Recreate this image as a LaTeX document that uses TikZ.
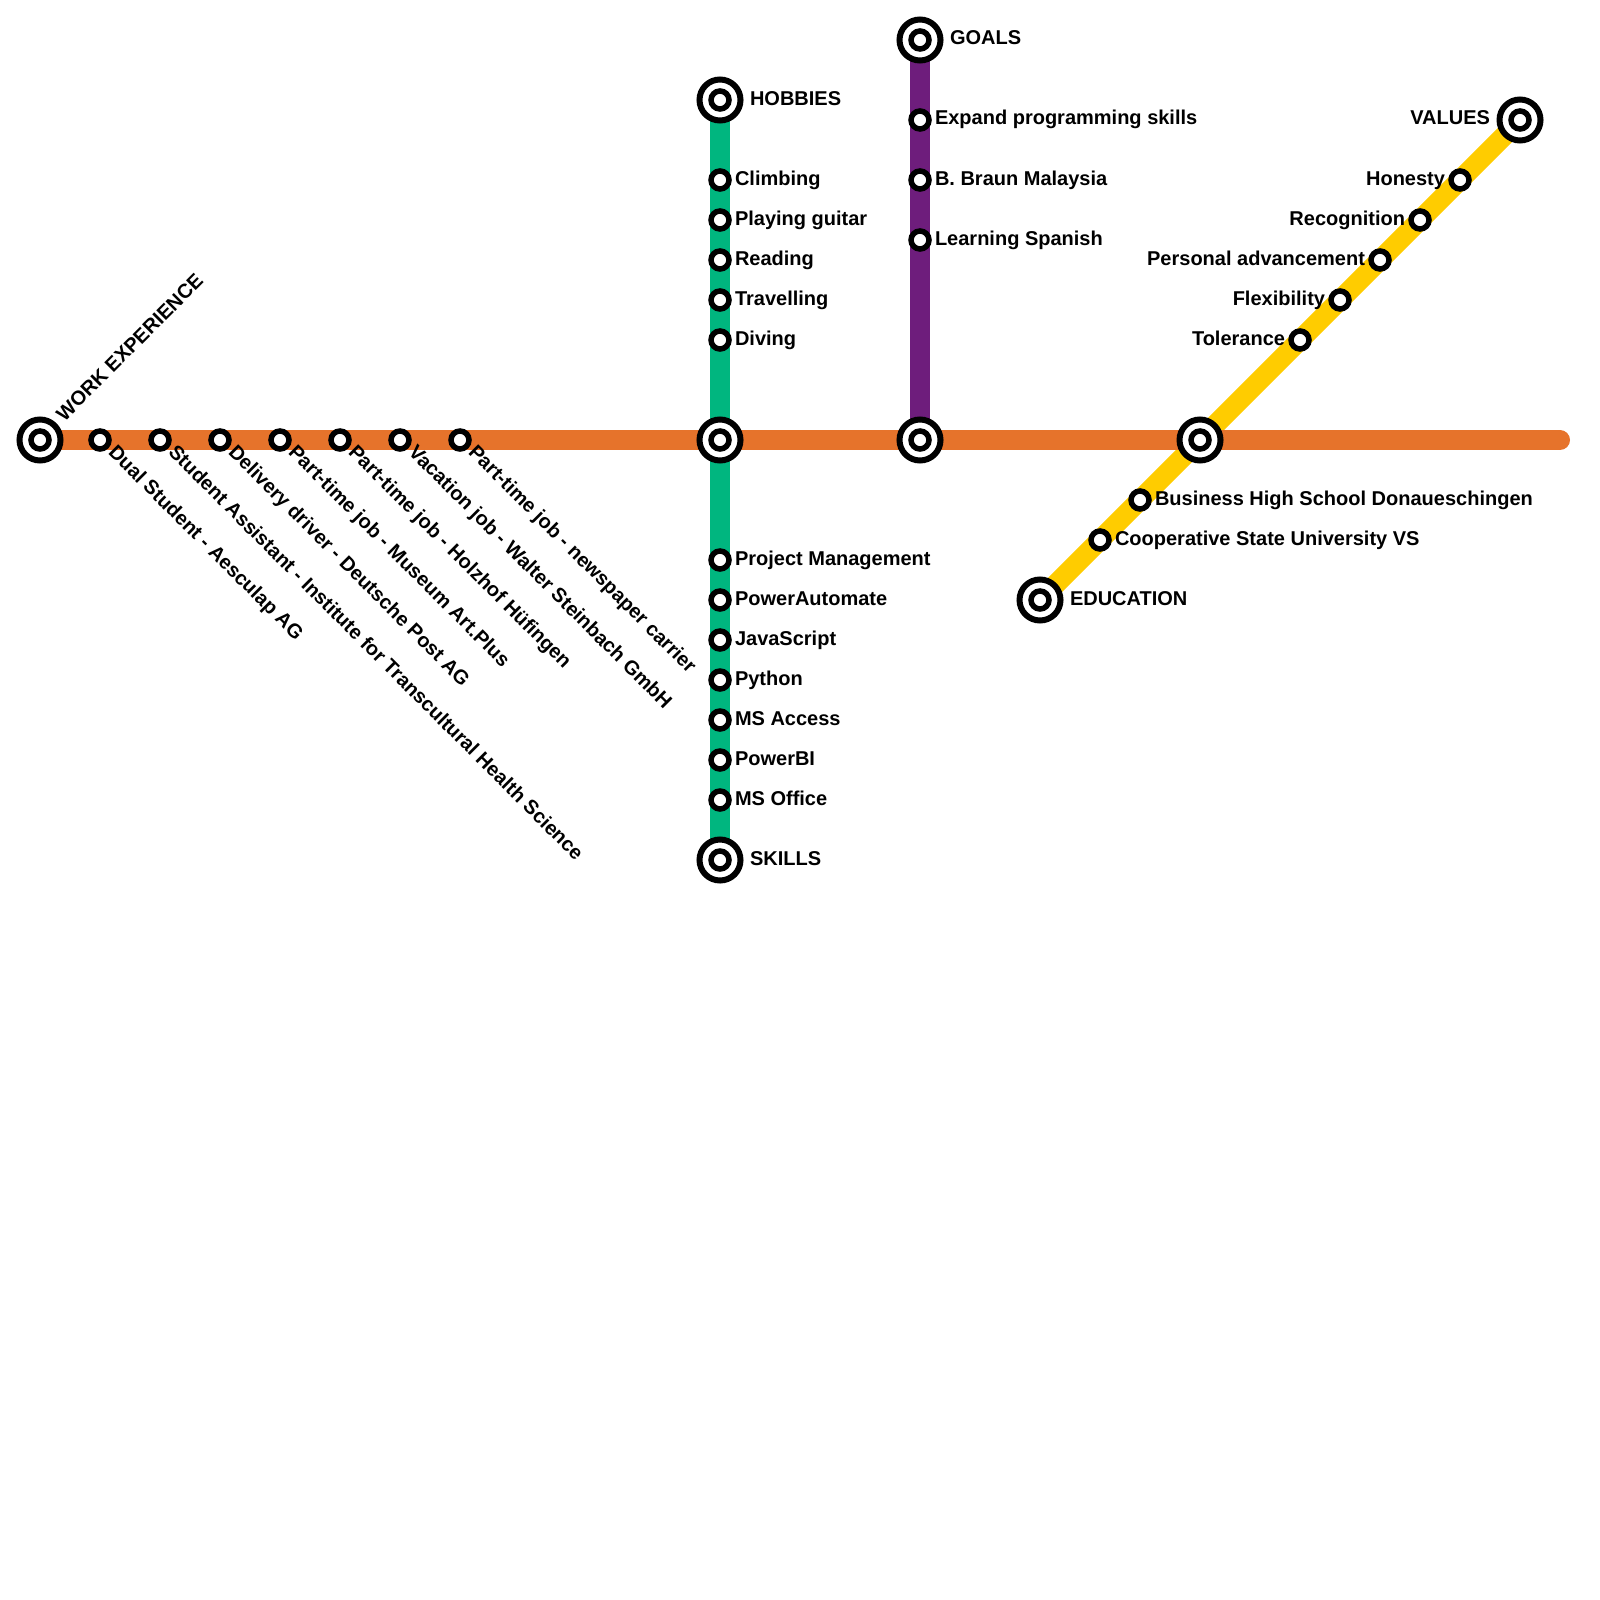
\documentclass[tikz,border=0pt]{standalone}
\usepackage{fontspec}
\setmainfont{Liberation Sans}
\usetikzlibrary{backgrounds}
\definecolor{orangeline}{HTML}{E6732B}
\definecolor{greenline}{HTML}{00B67F}
\definecolor{purpleline}{HTML}{6E1D7C}
\definecolor{yellowline}{HTML}{FFCC00}
\tikzset{
  px/.style={x=0.5pt,y=-0.5pt},
  stop/.style={circle,draw=black,line width=2.75pt,fill=white,inner sep=0pt,outer sep=0pt,minimum size=9pt},
  hub/.style={circle,draw=black,line width=3pt,fill=white,inner sep=0pt,outer sep=0pt,minimum size=20.5pt},
  route/.style={line width=10pt,line cap=round},
  lab/.style={inner sep=0pt,outer sep=0pt,font=\fontsize{10pt}{12pt}\selectfont\bfseries,text=black},
  labr/.style={lab,anchor=base west,yshift=-0.5pt},
  labl/.style={lab,anchor=base east,yshift=-0.5pt},
  labd/.style={lab,anchor=base west,rotate=-45},
  labu/.style={lab,anchor=base west,rotate=45},
}
\newcommand{\hubat}[2]{\node[hub] (#1) at (#2) {}; \node[stop] (#1i) at (#2) {};}
\begin{document}
\begin{tikzpicture}[px]
\useasboundingbox (0,0) rectangle (1600,1600);
% hubs
\hubat{work}{40,440}
\hubat{hobbies}{720,100}
\hubat{skills}{720,860}
\hubat{goals}{920,40}
\hubat{values}{1520,120}
\hubat{education}{1040,600}
\hubat{crossa}{720,440}
\hubat{crossb}{920,440}
\hubat{crossc}{1200,440}
\coordinate (orangeend) at (1560,440);
% work stops
\node[stop] (w1) at (100,440) {};
\node[stop] (w2) at (160,440) {};
\node[stop] (w3) at (220,440) {};
\node[stop] (w4) at (280,440) {};
\node[stop] (w5) at (340,440) {};
\node[stop] (w6) at (400,440) {};
\node[stop] (w7) at (460,440) {};
% hobbies
\node[stop] (h1) at (720,180) {};
\node[stop] (h2) at (720,220) {};
\node[stop] (h3) at (720,260) {};
\node[stop] (h4) at (720,300) {};
\node[stop] (h5) at (720,340) {};
% skills
\node[stop] (s1) at (720,560) {};
\node[stop] (s2) at (720,600) {};
\node[stop] (s3) at (720,640) {};
\node[stop] (s4) at (720,680) {};
\node[stop] (s5) at (720,720) {};
\node[stop] (s6) at (720,760) {};
\node[stop] (s7) at (720,800) {};
% goals
\node[stop] (g1) at (920,120) {};
\node[stop] (g2) at (920,180) {};
\node[stop] (g3) at (920,240) {};
% values
\node[stop] (v1) at (1460,180) {};
\node[stop] (v2) at (1420,220) {};
\node[stop] (v3) at (1380,260) {};
\node[stop] (v4) at (1340,300) {};
\node[stop] (v5) at (1300,340) {};
% education
\node[stop] (e1) at (1140,500) {};
\node[stop] (e2) at (1100,540) {};
% lines
\begin{scope}[on background layer]
\draw[route,draw=greenline] (hobbies.center) -- (skills.center);
\draw[route,draw=purpleline] (goals.center) -- (crossb.center);
\draw[route,draw=yellowline] (education.center) -- (values.center);
\draw[route,draw=orangeline] (work.center) -- (orangeend);
\end{scope}
% labels
\node[labu] (lwork) at (64.5,422) {WORK EXPERIENCE};
\node[labd] (lw1) at (107.5,453.4) {Dual Student - Aesculap AG};
\node[labd] (lw2) at (167.5,453.4) {Student Assistant - Institute for Transcultural Health Science};
\node[labd] (lw3) at (227.5,453.4) {Delivery driver - Deutsche Post AG};
\node[labd] (lw4) at (287.5,453.4) {Part-time job - Museum Art.Plus};
\node[labd] (lw5) at (347.5,453.4) {Part-time job - Holzhof Hüfingen};
\node[labd] (lw6) at (407.5,453.4) {Vacation job - Walter Steinbach GmbH};
\node[labd] (lw7) at (467.5,453.4) {Part-time job - newspaper carrier};
\node[labr] (lhobbies) at (750,104) {HOBBIES};
\node[labr] (lh1) at (735,184) {Climbing};
\node[labr] (lh2) at (735,224) {Playing guitar};
\node[labr] (lh3) at (735,264) {Reading};
\node[labr] (lh4) at (735,304) {Travelling};
\node[labr] (lh5) at (735,344) {Diving};
\node[labr] (ls1) at (735,564) {Project Management};
\node[labr] (ls2) at (735,604) {PowerAutomate};
\node[labr] (ls3) at (735,644) {JavaScript};
\node[labr] (ls4) at (735,684) {Python};
\node[labr] (ls5) at (735,724) {MS Access};
\node[labr] (ls6) at (735,764) {PowerBI};
\node[labr] (ls7) at (735,804) {MS Office};
\node[labr] (lskills) at (750,864) {SKILLS};
\node[labr] (lgoals) at (950,44) {GOALS};
\node[labr] (lg1) at (935,124) {Expand programming skills};
\node[labr] (lg2) at (935,184) {B. Braun Malaysia};
\node[labr] (lg3) at (935,244) {Learning Spanish};
\node[labl] (lvalues) at (1490,124) {VALUES};
\node[labl] (lv1) at (1445,184) {Honesty};
\node[labl] (lv2) at (1405,224) {Recognition};
\node[labl] (lv3) at (1365,264) {Personal advancement};
\node[labl] (lv4) at (1325,304) {Flexibility};
\node[labl] (lv5) at (1285,344) {Tolerance};
\node[labr] (le1) at (1155,504) {Business High School Donaueschingen};
\node[labr] (le2) at (1115,544) {Cooperative State University VS};
\node[labr] (leducation) at (1070,604) {EDUCATION};
\end{tikzpicture}
\end{document}
